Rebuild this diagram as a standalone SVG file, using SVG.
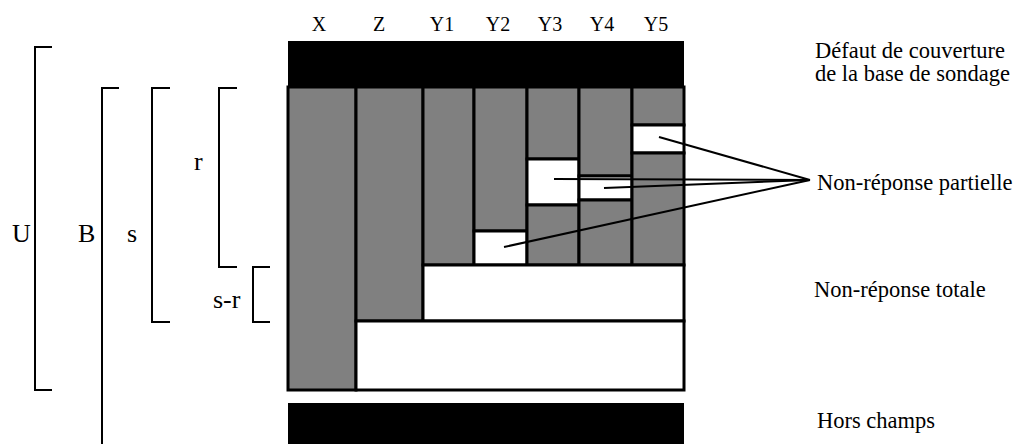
<svg xmlns="http://www.w3.org/2000/svg" width="1017" height="444" viewBox="0 0 1017 444">
<style>
text { font-family: "Liberation Serif", "Times New Roman", serif; fill: #000; }
.hdr { font-size: 20px; text-anchor: middle; }
.lbl { font-size: 22.5px; }
.side { font-size: 26px; }
.g { fill: #808080; stroke: #000; stroke-width: 3; }
.w { fill: #fff; stroke: #000; stroke-width: 3; }
.blk { fill: #000; }
.br { fill: none; stroke: #000; stroke-width: 2; }
.conn { stroke: #000; stroke-width: 2; fill: none; }
</style>
<rect width="1017" height="444" fill="#fff"/>
<g id="headers">
<text class="hdr" x="319" y="31">X</text>
<text class="hdr" x="379" y="31">Z</text>
<text class="hdr" x="442" y="31">Y1</text>
<text class="hdr" x="498" y="31">Y2</text>
<text class="hdr" x="550" y="31">Y3</text>
<text class="hdr" x="602" y="31">Y4</text>
<text class="hdr" x="656" y="31">Y5</text>
</g>
<g id="coverage-bar"><rect class="blk" x="288" y="41" width="396" height="46"/></g>
<g id="col-X"><rect class="g" x="288" y="87" width="68" height="303"/></g>
<g id="col-Z"><rect class="g" x="356" y="87" width="67" height="234"/></g>
<g id="col-Y1"><rect class="g" x="423" y="87" width="51" height="178"/></g>
<g id="col-Y2">
<rect class="g" x="474" y="87" width="53" height="144"/>
<rect class="w" x="474" y="231" width="53" height="34"/>
</g>
<g id="col-Y3">
<rect class="g" x="527" y="87" width="52" height="72"/>
<rect class="w" x="527" y="159" width="52" height="46"/>
<rect class="g" x="527" y="205" width="52" height="60"/>
</g>
<g id="col-Y4">
<rect class="g" x="579" y="87" width="53" height="89"/>
<rect class="w" x="579" y="176" width="53" height="24"/>
<rect class="g" x="579" y="200" width="53" height="65"/>
</g>
<g id="col-Y5">
<rect class="g" x="632" y="87" width="52" height="38"/>
<rect class="w" x="632" y="125" width="52" height="28"/>
<rect class="g" x="632" y="153" width="52" height="112"/>
</g>
<g id="total-nonresponse"><rect class="w" x="423" y="265" width="261" height="56"/></g>
<g id="unit-area"><rect class="w" x="356" y="321" width="328" height="69"/></g>
<g id="out-of-scope-bar"><rect class="blk" x="288" y="403" width="396" height="45"/></g>
<g id="connectors">
<line class="conn" x1="659" y1="137" x2="810" y2="180"/>
<line class="conn" x1="554" y1="179" x2="810" y2="180"/>
<line class="conn" x1="604" y1="188" x2="810" y2="180"/>
<line class="conn" x1="504" y1="247" x2="810" y2="180"/>
</g>
<g id="brackets">
<path class="br" d="M52 47 H35 V390 H52"/>
<path class="br" d="M119 88 H102 V446"/>
<path class="br" d="M170 88 H152 V322 H170"/>
<path class="br" d="M237 88 H219 V267 H237"/>
<path class="br" d="M270 267 H253 V322 H270"/>
</g>
<g id="side-labels">
<text class="side" x="12" y="242">U</text>
<text class="side" x="78" y="242">B</text>
<text class="side" x="127" y="242">s</text>
<text class="side" x="194" y="170">r</text>
<text class="side" x="213" y="308">s-r</text>
</g>
<g id="right-labels">
<text class="lbl" x="815" y="58">Défaut de couverture</text>
<text class="lbl" x="815" y="81">de la base de sondage</text>
<text class="lbl" x="817" y="190">Non-réponse partielle</text>
<text class="lbl" x="814" y="297">Non-réponse totale</text>
<text class="lbl" x="817" y="428">Hors champs</text>
</g>
</svg>
